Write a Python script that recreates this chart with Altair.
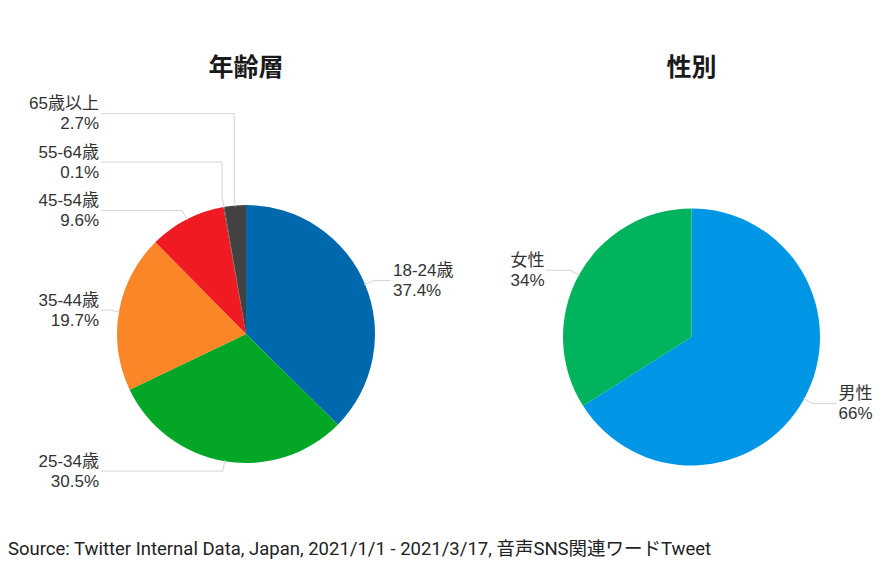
import math
import altair as alt
import pandas as pd

# ---- data ----
age_labels = ["18-24歳", "25-34歳", "35-44歳", "45-54歳", "55-64歳", "65歳以上"]
age_values = [37.4, 30.5, 19.7, 9.6, 0.1, 2.7]
gender_labels = ["男性", "女性"]
gender_values = [66, 34]
titles = ["年齢層", "性別"]
source_text = "Source: Twitter Internal Data, Japan, 2021/1/1 - 2021/3/17, 音声SNS関連ワードTweet"

# ---- styles / layout ----
age_colors = ["#0068ad", "#04a725", "#fb8628", "#ef1a22", "#5a3a3a", "#424242"]
gender_colors = ["#0096e6", "#00b35c"]
W, H = 878, 560
OFF = 8
PIES = [dict(cx=246 - OFF, cy=334 - OFF, r=129), dict(cx=691.5 - OFF, cy=337 - OFF, r=128.5)]
GAP = 48.5
LABEL_FONT = "Liberation Sans, Noto Sans CJK JP, sans-serif"
TITLE_FONT = "Noto Sans CJK JP, sans-serif"

series = [(age_labels, age_values), (gender_labels, gender_values)]

arc_layers = []
line_rows = []
text_rows = []
title_rows = []
for p, ((labs, vals), pie) in enumerate(zip(series, PIES)):
    cx, cy, r = pie["cx"], pie["cy"], pie["r"]
    title_rows.append(dict(t=titles[p], x=cx, y=60))
    total = sum(vals)
    cum = 0
    items = []
    for i, (lab, v) in enumerate(zip(labs, vals)):
        mid = (cum + v / 2) / total * 2 * math.pi
        cum += v
        sx, sy = math.sin(mid), -math.cos(mid)
        a = (cx + (r - 1) * sx, cy + (r - 1) * sy)
        b = (cx + (r + 10) * sx, cy + (r + 10) * sy)
        side = 1 if sx >= 0 else -1
        items.append(dict(key=f"{p}-{i}", lab=lab, pct=f"{v}%", a=a, b=b, side=side, ly=b[1]))
    for side in (1, -1):
        grp = sorted([it for it in items if it["side"] == side], key=lambda it: -it["ly"])
        for k in range(1, len(grp)):
            if grp[k - 1]["ly"] - grp[k]["ly"] < GAP:
                grp[k]["ly"] = grp[k - 1]["ly"] - GAP
    for it in items:
        pts = [it["a"], it["b"], (it["b"][0], it["ly"]), (cx + it["side"] * 145, it["ly"])]
        for o, (x, y) in enumerate(pts):
            line_rows.append(dict(key=it["key"], o=o, x=x, y=y))
        text_rows.append(dict(lab=it["lab"], pct=it["pct"], x=cx + it["side"] * 147, y=it["ly"],
                              side="R" if it["side"] > 0 else "L"))

    df = pd.DataFrame({"cat": labs, "value": vals, "idx": list(range(len(labs)))})
    arc_layers.append(
        alt.Chart(df).mark_arc(radius=r).encode(
            theta=alt.Theta("value:Q", stack=True),
            order=alt.Order("idx:Q"),
            color=alt.Color("cat:N",
                            scale=alt.Scale(domain=age_labels + gender_labels,
                                            range=age_colors + gender_colors),
                            legend=None),
            x=alt.value(cx),
            y=alt.value(cy),
        )
    )

xs = alt.Scale(domain=[0, W], nice=False, zero=False)
ys = alt.Scale(domain=[H, 0], nice=False, zero=False)
X = lambda f="x": alt.X(f + ":Q", scale=xs, axis=None)
Y = lambda f="y": alt.Y(f + ":Q", scale=ys, axis=None)

lines = alt.Chart(pd.DataFrame(line_rows)).mark_line(color="#d4d4d4", strokeWidth=1).encode(
    x=X(), y=Y(), detail="key:N", order="o:Q")

tdf = pd.DataFrame(text_rows)
text_layers = []
for side, align in (("L", "right"), ("R", "left")):
    sub = tdf[tdf["side"] == side]
    for field, dy in (("lab", -9.5), ("pct", 10.5)):
        text_layers.append(
            alt.Chart(sub).mark_text(align=align, baseline="middle", dy=dy, fontSize=17,
                                     font=LABEL_FONT, color="#333333").encode(
                x=X(), y=Y(), text=f"{field}:N"))

title_layer = alt.Chart(pd.DataFrame(title_rows)).mark_text(
    align="center", baseline="middle", fontSize=25, fontWeight="bold", font=TITLE_FONT,
    color="#1a1a1a").encode(x=X(), y=Y(), text="t:N")

source_layer = alt.Chart(pd.DataFrame([dict(t=source_text, x=0, y=541)])).mark_text(
    align="left", baseline="middle", fontSize=18.5, font="Roboto, Noto Sans CJK JP, sans-serif",
    color="#222222").encode(x=X(), y=Y(), text="t:N")

chart = alt.layer(*arc_layers, lines, *text_layers, title_layer, source_layer).properties(
    width=W, height=H, padding=0, autosize=alt.AutoSizeParams(type="none"),
    background="white"
).configure_view(stroke=None)

chart.save("out.html", embed_options={"renderer": "svg", "actions": False})
